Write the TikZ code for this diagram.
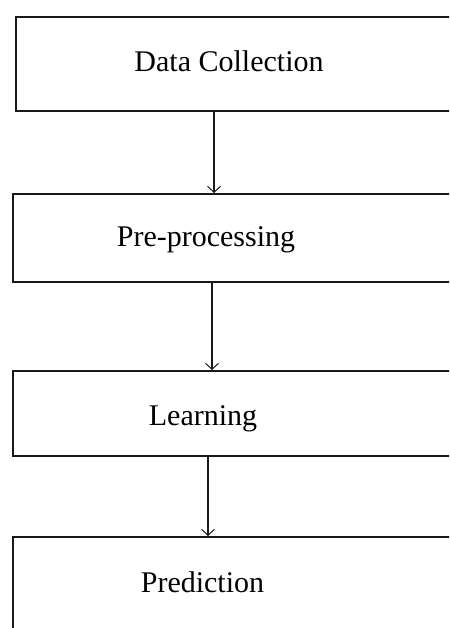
\documentclass[tikz,border=0pt]{standalone}
\usepackage{fontspec}
\setmainfont{Liberation Serif}
\usetikzlibrary{arrows.meta}
\begin{document}
\begin{tikzpicture}[x=1pt,y=-1pt,
  stagebox/.style={draw=black!90,line width=1.7pt,rectangle,anchor=north west,inner sep=0pt,minimum width=480pt},
  lbl/.style={anchor=base,font=\fontsize{30}{35}\selectfont,text=black,inner sep=0pt},
  flow/.style={draw=black!90,line width=1.3pt,-{Straight Barb[length=6pt,width=13pt,line width=1pt]}}]
\useasboundingbox (0,0) rectangle (449,628);
\clip (0,0) rectangle (449,628);
\node[stagebox,minimum height=94pt] (b1) at (15,16) {};
\node[stagebox,minimum height=88pt] (b2) at (12,193) {};
\node[stagebox,minimum height=85pt] (b3) at (12,370) {};
\node[stagebox,minimum height=140pt] (b4) at (12,536) {};
\node[lbl] (t1) at (229,71.5) {Data Collection};
\node[lbl] (t2) at (206,246.5) {Pre-processing};
\node[lbl] (t3) at (203,425) {Learning};
\node[lbl] (t4) at (202.5,592.5) {Prediction};
\coordinate (a1) at (214,0);
\coordinate (a2) at (212,0);
\coordinate (a3) at (208,0);
\draw[flow] (b1.south -| a1) -- (b2.north -| a1);
\draw[flow] (b2.south -| a2) -- (b3.north -| a2);
\draw[flow] (b3.south -| a3) -- (b4.north -| a3);
\end{tikzpicture}
\end{document}
